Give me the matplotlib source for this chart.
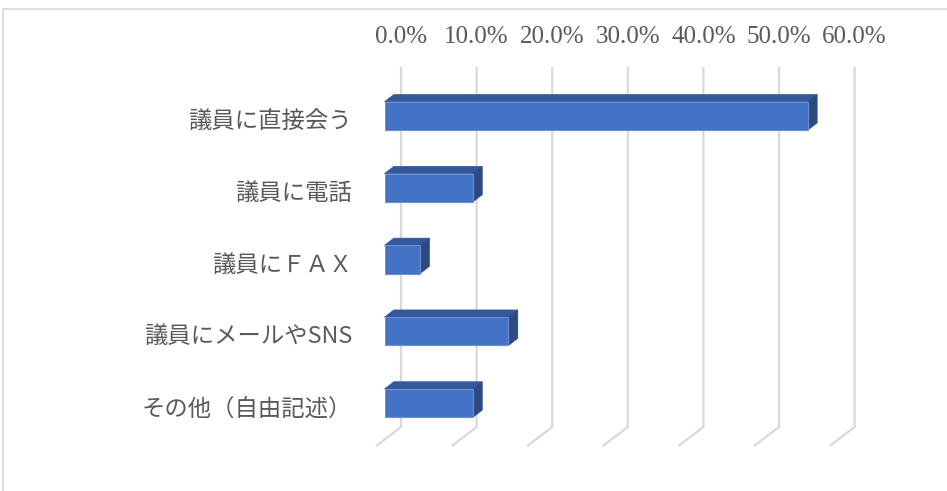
import matplotlib
matplotlib.use('Agg')
import matplotlib.pyplot as plt
from matplotlib.patches import Polygon
from matplotlib.lines import Line2D
import matplotlib.transforms as mtransforms

# ---- data ----
categories = ['議員に直接会う', '議員に電話', '議員にＦＡＸ', '議員にメールやSNS', 'その他（自由記述）']
values = [56.0, 11.7, 4.7, 16.4, 11.7]
ticks = [0, 10, 20, 30, 40, 50, 60]
tick_labels = ['0.0%', '10.0%', '20.0%', '30.0%', '40.0%', '50.0%', '60.0%']

# ---- layout (pixels) ----
W, H = 947, 491
fig = plt.figure(figsize=(W / 100, H / 100), dpi=100)
x0_px, x1_px = 384.5, 838.1        # front plane: 0% .. 60%
y_top_px, y_bot_px = 60, 450
first_px, step_px = 115.9, 71.8    # centre of first bar, spacing
ax = fig.add_axes([x0_px / W, 1 - y_bot_px / H, (x1_px - x0_px) / W, (y_bot_px - y_top_px) / H])
ax.set_xlim(ticks[0], ticks[-1])
ax.set_ylim((y_bot_px - first_px) / step_px, (y_top_px - first_px) / step_px)
ax.axis('off')

ppx = (x1_px - x0_px) / (ticks[-1] - ticks[0])   # pixels per x unit
ppy = step_px                                      # pixels per category

def ypx(p):
    return (p - first_px) / step_px

text_color = '#595959'
grid_color = '#d9d9d9'

# wall gridlines with floor diagonal
wall_dx = 16.5 / ppx
wall_top, wall_bot = ypx(67), ypx(427)
floor_dx, floor_dy = -25 / ppx, 19 / ppy
for t in ticks:
    xw = t + wall_dx
    ax.plot([xw, xw, xw + floor_dx], [wall_top, wall_bot, wall_bot + floor_dy],
            color=grid_color, lw=1.6, solid_capstyle='butt', solid_joinstyle='miter',
            zorder=1, clip_on=False)

# 3D bars
bar_h = 28.3 / ppy
ddx, ddy = 9.3 / ppx, -7.2 / ppy
front_c, top_c, side_c = '#4472C4', '#34589A', '#2B4A80'
for i, v in enumerate(values):
    top = i - bar_h / 2
    bot = i + bar_h / 2
    ax.add_patch(Polygon([(0, top), (v, top), (v + ddx, top + ddy), (ddx, top + ddy)],
                         closed=True, facecolor=top_c, edgecolor=top_c, lw=0.5, zorder=3, clip_on=False))
    ax.add_patch(Polygon([(v, top), (v + ddx, top + ddy), (v + ddx, bot + ddy), (v, bot)],
                         closed=True, facecolor=side_c, edgecolor=side_c, lw=0.5, zorder=3, clip_on=False))
ax.barh(range(len(values)), values, height=bar_h, left=0, color=front_c,
        edgecolor='#6a90d6', linewidth=0.8, zorder=4)

# top tick labels (centred on wall gridlines)
blend = mtransforms.blended_transform_factory(ax.transData, fig.transFigure)
for t, lab in zip(ticks, tick_labels):
    ax.text(t + wall_dx, 1 - 37 / H, lab, transform=blend, ha='center', va='center',
            fontsize=18, color=text_color, family=['Liberation Serif', 'DejaVu Serif'])

# category labels
lab_tr = mtransforms.offset_copy(ax.transData, fig=fig, x=-32.5, y=-6.5, units='dots')
for i, c in enumerate(categories):
    ax.text(0, i, c, transform=lab_tr, ha='right', va='center', fontsize=16.8,
            color=text_color, family=['Noto Sans CJK JP', 'DejaVu Sans'])

# chart border (top & left visible)
fig.add_artist(Line2D([3 / W, 3 / W], [0, 1 - 9 / H], transform=fig.transFigure,
                      color=grid_color, lw=1.2))
fig.add_artist(Line2D([3 / W, 1], [1 - 9 / H, 1 - 9 / H], transform=fig.transFigure,
                      color=grid_color, lw=1.2))

fig.savefig('out.png', dpi=100)
